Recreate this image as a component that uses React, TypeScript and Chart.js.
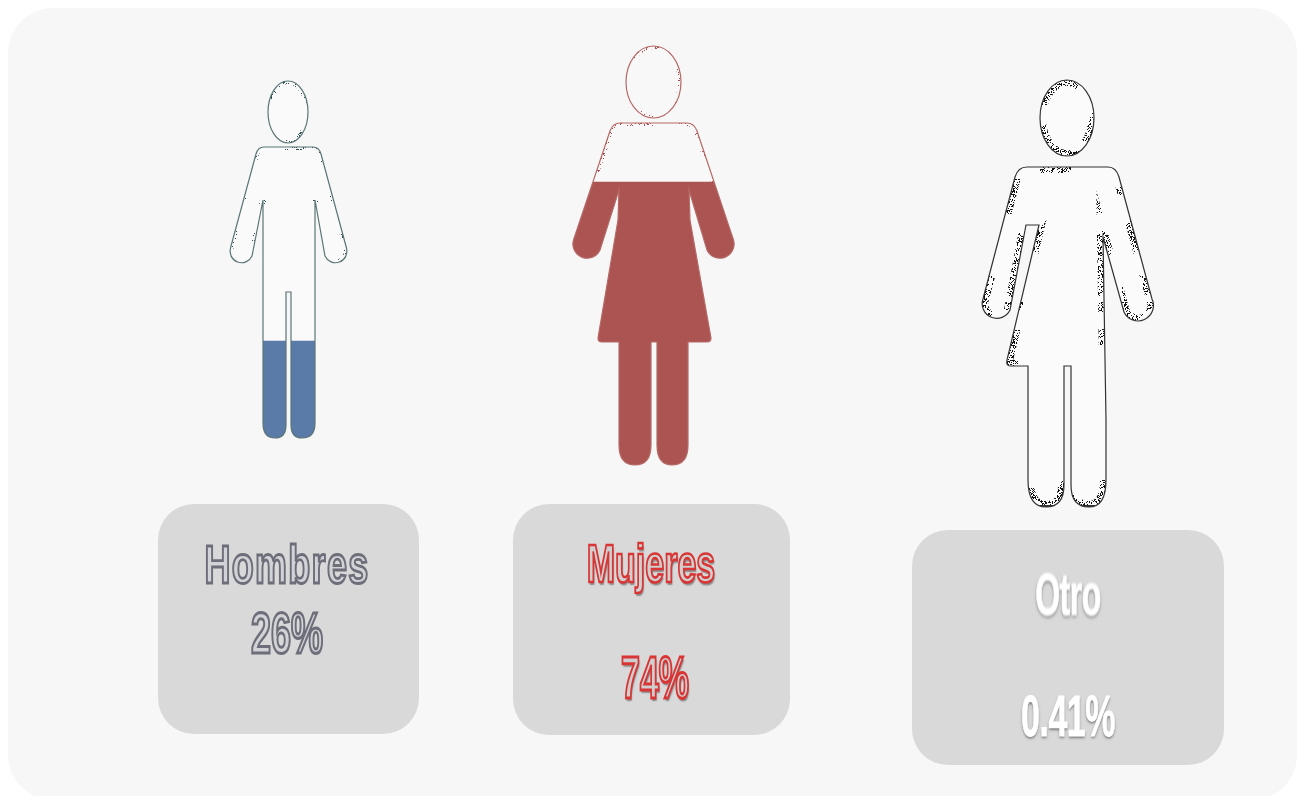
import React, { useEffect, useRef } from "react";
import { Chart, registerables } from "chart.js";

Chart.register(...registerables);

const categories = ["Hombres", "Mujeres", "Otro"];
const percentages = [26, 74, 0.41];
const percentLabels = ["26%", "74%", "0.41%"];
// The reference's fill does not span the figure linearly to 100: top of each figure's axis
const axisTops = [95.7, 109.6, 100];
const fillColors = ["#5a7aa8", "#ab5452", "#333333"];
const outlineColors = ["#5b7576", "#b56a68", "#333333"];
const speckleColors = ["#2f4a50", "#a84f4f", "#111111"];
const interiorColors = ["#fafafa", "#f8f8f8", "#fbfbfb"];
const speckleDensity = [9, 7, 3];
const speckleWidths = [3, 3, 6];
// Zone [x, y, w, h] of each glyph where the outline stays clean
const cleanZones = [
  [255, 205, 70, 225],
  [560, 190, 190, 280],
  [1020, 345, 100, 135],
];

// Glyph outlines, each in the local units of its view box [x, y, w, h]
const glyphBoxes = [
  [228, 81, 120, 357],
  [573, 46, 161, 419],
  [983, 80, 169, 427],
];
const glyphHeads = [
  "M268 112A20 31 0 1 1 308 112A20 31 0 1 1 268 112Z",
  "M626 82A27.5 36 0 1 1 681 82A27.5 36 0 1 1 626 82Z",
  "M1040 118A27 38 0 1 1 1094 118A27 38 0 1 1 1040 118Z",
];
const glyphBodies = [
  "M264 147L313 147Q319 147 321 154L346.5 248A11.5 11.5 0 0 1 325 256L315 200L315 423Q315 438 302 438Q291 438 291 425L291 292L286 292L286 425Q286 438 275 438Q263 438 263 423L263 200L252 256A11.5 11.5 0 0 1 230.5 248L256 154Q258 147 264 147Z",
  "M620 123L687 123Q694 123 697 131L733.5 240A14.2 14.2 0 0 1 707 250L689 190L690 220L711 338Q711 342 707 342L688 342L688 445Q688 465 672 465Q657 465 657 445L657 342L651 342L651 445Q651 465 635 465Q619 465 619 445L619 342L602 342Q598 342 598 338L618 220L619 190L600 250A14.2 14.2 0 0 1 573.5 240L610 131Q613 123 620 123Z",
  "M1027 167L1108 167Q1116 167 1119 177L1152 299A15.4 15.4 0 0 1 1124 312L1103 237L1106 420L1106 480Q1106 507 1089 507Q1071 507 1071 485L1071 366L1064 366L1064 485Q1064 507 1046 507Q1028 507 1028 480L1028 366L1010 366Q1006 366 1007 360L1039 225L1026 225L1010 310A14.6 14.6 0 0 1 983 299L1015 177Q1018 167 1027 167Z",
];

const cards = [
  { left: 158, top: 504, width: 261, height: 230 },
  { left: 513, top: 504, width: 277, height: 231 },
  { left: 912, top: 530, width: 312, height: 235 },
];
const nameStyles = [
  { x: 287, y: 565, size: 36, k: 1.5, spacing: 1.3, color: "#d2d3d6", stroke: "#6d6e7a", strokeW: 1.9, shadow: "none" },
  { x: 651, y: 563, size: 34, k: 1.58, spacing: 0, color: "#cfcfcf", stroke: "#d93535", strokeW: 1.7, shadow: "1px 2px 1px #8a8a8a" },
  { x: 1068, y: 595, size: 32, k: 1.85, spacing: -0.5, color: "#ffffff", stroke: "#ffffff", strokeW: 0.5, shadow: "0 1px 2px #777777" },
];
const valueStyles = [
  { x: 287, y: 634, size: 36, k: 1.58, spacing: 0, color: "#d2d3d6", stroke: "#6d6e7a", strokeW: 1.9, shadow: "none" },
  { x: 655, y: 677, size: 34, k: 1.72, spacing: 0, color: "#cfcfcf", stroke: "#d93535", strokeW: 1.7, shadow: "1px 2px 1px #8a8a8a" },
  { x: 1068, y: 716, size: 34, k: 1.68, spacing: -0.5, color: "#ffffff", stroke: "#ffffff", strokeW: 0.5, shadow: "0 1px 2px #777777" },
];

const PAD = 4;

// Texture for the rough outline of the reference image (a fixed hash, not data)
function speckleTile(ctx: CanvasRenderingContext2D, color: string, density: number) {
  const size = 151;
  const tile = document.createElement("canvas");
  tile.width = size;
  tile.height = size;
  const t = tile.getContext("2d")!;
  t.fillStyle = color;
  for (let y = 0; y < size; y++) {
    for (let x = 0; x < size; x++) {
      const inCluster = Math.sin(x / 5.3) + Math.cos(y / 7.1) + Math.sin((x + y) / 11) > 0.1;
      const hash = (Math.imul(x + 1, 73856093) ^ Math.imul(y + 1, 19349663)) >>> 7;
      if (inCluster && hash % density === 0) t.fillRect(x, y, 1, 1);
    }
  }
  return ctx.createPattern(tile, "repeat")!;
}

function Figure({ index }: { index: number }) {
  const ref = useRef<HTMLCanvasElement>(null);
  useEffect(() => {
    const canvas = ref.current!;
    const [bx, by, bw, bh] = glyphBoxes[index];
    const head = new Path2D(glyphHeads[index]);
    const body = new Path2D(glyphBodies[index]);
    const toGlyph = (chart: Chart) => {
      const { ctx, chartArea: a } = chart;
      ctx.translate(a.left, a.top);
      ctx.scale(a.width / bw, a.height / bh);
      ctx.translate(-bx, -by);
    };
    const silhouette = {
      id: "silhouette",
      beforeDatasetsDraw(chart: Chart) {
        const { ctx } = chart;
        ctx.save();
        toGlyph(chart);
        ctx.fillStyle = interiorColors[index];
        ctx.fill(head);
        ctx.fill(body);
        // speckled band just inside the outline, later covered by the bar
        const [zx, zy, zw, zh] = cleanZones[index];
        const allowed = new Path2D();
        allowed.rect(bx - 5, by - 5, bw + 10, bh + 10);
        allowed.rect(zx, zy, zw, zh);
        ctx.save();
        ctx.clip(allowed, "evenodd");
        ctx.strokeStyle = speckleTile(ctx, speckleColors[index], speckleDensity[index]);
        ctx.lineWidth = speckleWidths[index] * 2;
        for (const p of [head, body]) {
          ctx.save();
          ctx.clip(p);
          ctx.stroke(p);
          ctx.restore();
        }
        ctx.restore();
        const clip = new Path2D();
        clip.addPath(head);
        clip.addPath(body);
        ctx.clip(clip);
        // back to pixel space for the bars
        ctx.setTransform(1, 0, 0, 1, 0, 0);
      },
      afterDatasetsDraw(chart: Chart) {
        const { ctx } = chart;
        ctx.restore();
        ctx.save();
        toGlyph(chart);
        ctx.strokeStyle = outlineColors[index];
        ctx.lineWidth = 1.2;
        ctx.stroke(head);
        ctx.stroke(body);
        ctx.restore();
      },
    };
    const chart = new Chart(canvas, {
      type: "bar",
      data: {
        labels: [categories[index]],
        datasets: [
          {
            label: categories[index],
            data: [percentages[index]],
            backgroundColor: fillColors[index],
            borderWidth: 0,
            barPercentage: 1,
            categoryPercentage: 1,
          },
        ],
      },
      options: {
        animation: false,
        responsive: false,
        events: [],
        layout: { padding: PAD },
        plugins: { legend: { display: false }, tooltip: { enabled: false }, title: { display: false } },
        scales: {
          x: { display: false, stacked: true },
          y: { display: false, min: 0, max: axisTops[index] },
        },
      },
      plugins: [silhouette],
    });
    return () => chart.destroy();
  }, [index]);
  const [bx, by, bw, bh] = glyphBoxes[index];
  return (
    <canvas
      ref={ref}
      width={bw + 2 * PAD}
      height={bh + 2 * PAD}
      style={{ position: "absolute", left: bx - PAD, top: by - PAD, width: bw + 2 * PAD, height: bh + 2 * PAD }}
    />
  );
}

function Label({ text, s }: { text: string; s: (typeof nameStyles)[number] }) {
  return (
    <div
      style={{
        position: "absolute",
        left: s.x,
        top: s.y,
        transform: `translate(-50%, -50%) scaleY(${s.k})`,
        font: `bold ${s.size}px "Liberation Sans", Arial, sans-serif`,
        lineHeight: 1,
        letterSpacing: s.spacing,
        whiteSpace: "nowrap",
        color: s.color,
        WebkitTextStroke: `${s.strokeW}px ${s.stroke}`,
        textShadow: s.shadow,
        filter: "blur(0.45px)",
      }}
    >
      {text}
    </div>
  );
}

export default function App() {
  return (
    <div style={{ position: "fixed", left: 0, top: 0, width: 1300, height: 796, overflow: "hidden", background: "#ffffff" }}>
      <div style={{ position: "absolute", left: 8, top: 8, width: 1289, height: 792, borderRadius: 45, background: "#f7f7f7" }} />
      {cards.map((c, i) => (
        <div key={i} style={{ position: "absolute", ...c, borderRadius: 36, background: "#d9d9d9" }} />
      ))}
      {categories.map((_, i) => (
        <Figure key={i} index={i} />
      ))}
      {categories.map((name, i) => (
        <Label key={name} text={name} s={nameStyles[i]} />
      ))}
      {percentLabels.map((t, i) => (
        <Label key={t} text={t} s={valueStyles[i]} />
      ))}
    </div>
  );
}
